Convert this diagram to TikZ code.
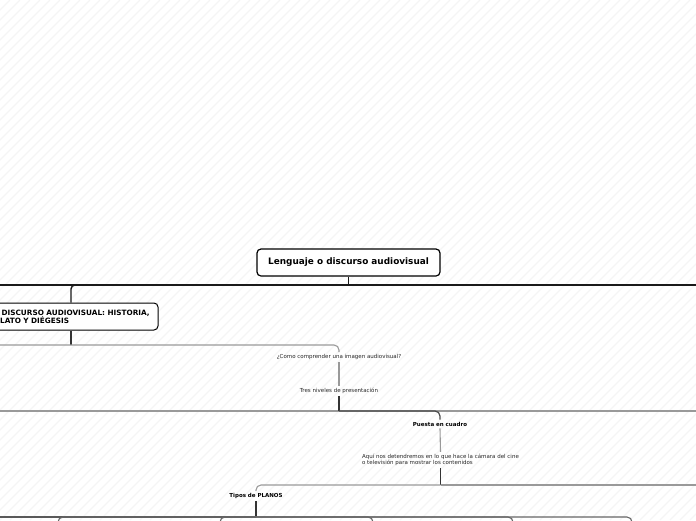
\documentclass[tikz,border=0pt]{standalone}
\usepackage{fontspec}
\setmainfont{DejaVu Sans}
\usetikzlibrary{positioning}

\tikzset{
  stripe/.style={black!4, line width=1.2pt},
  rootbox/.style={draw, line width=1.2pt, rounded corners=4pt, fill=white,
    font=\fontsize{8.9}{10}\selectfont\bfseries, minimum width=183pt, minimum height=27pt},
  topicbox/.style={draw, line width=1pt, rounded corners=4pt, fill=white, align=left,
    text width=163pt, inner xsep=5.5pt, minimum height=27pt,
    font=\fontsize{7.3}{8.2}\selectfont\bfseries},
  subtopic/.style={inner sep=2pt, font=\fontsize{5.5}{6}\selectfont\bfseries},
  note/.style={inner sep=2pt, text=black!85, font=\fontsize{5.5}{6.2}\selectfont},
  trunk/.style={line width=1.4pt, black!90},
  stub/.style={line width=1.2pt, black!80},
  branch/.style={line width=1.1pt, black!40}
}

\begin{document}
\begin{tikzpicture}[x=1pt,y=-1pt]
\useasboundingbox (0,0) rectangle (696,520);
\clip (0,0) rectangle (696,520);
% background
\foreach \k in {-520,-510,...,700} {
    \draw[stripe] (\k,520) -- ++(520,-520);
}

% topics
\node[rootbox] (root) at (348.5,262.5) {Lenguaje o discurso audiovisual};
\node[topicbox] (discurso) at (71,316.5) {EL DISCURSO AUDIOVISUAL: HISTORIA,\\RELATO Y DIÉGESIS};
\node[note] (comprender) at (339,357) {¿Como comprender una imagen audiovisual?};
\node[note] (niveles) at (339,391) {Tres niveles de presentación};
\node[subtopic] (puesta) at (440,424) {Puesta en cuadro};
\node[note, align=left] (aqui) at (440.5,460) {Aquí nos detendremos en lo que hace la cámara del cine\\o televisión para mostrar los contenidos};
\node[subtopic] (tipos) at (256,496) {Tipos de PLANOS};

% junction lines
\coordinate (lvlA) at (0,285);   \coordinate (lvlAr) at (696,285);
\coordinate (lvlB) at (0,345);
\coordinate (lvlC) at (0,411);   \coordinate (lvlCr) at (696,411);
\coordinate (lvlD) at (696,485);
\coordinate (lvlE) at (0,517);
\foreach \n/\x in {a/58, b/220, c/373, d/513, e/632} {
    \coordinate (plano\n) at (\x,540);
}

% root
\draw[trunk] (root.south) -- (root.south |- lvlA);
\draw[trunk] (lvlA) -- (lvlAr);
\draw[trunk, rounded corners=4pt] (root.south |- lvlA) -| (discurso.north);

% discurso
\draw[stub] (discurso.south) -- (discurso.south |- lvlB);
\draw[branch, rounded corners=5pt] (lvlB) -| (comprender.north);
\draw[branch] (comprender.south) -- (niveles.north);

% niveles
\draw[branch] (lvlC) -- (lvlCr);
\draw[stub] (niveles.south) -- (niveles.south |- lvlC);
\draw[stub, black!70, rounded corners=5pt] (niveles.south |- lvlC) -| (puesta.north);

% puesta
\draw[branch] (puesta.south) -- (aqui.north);
\draw[stub] (aqui.south) -- (aqui.south |- lvlD);
\draw[branch] (aqui.south |- lvlD) -- (lvlD);
\draw[branch, rounded corners=5pt] (aqui.south |- lvlD) -| (tipos.north);

% tipos
\draw[stub] (tipos.south) -- (tipos.south |- lvlE);
\draw[branch, black!65] (lvlE) -- (tipos.south |- lvlE);
\foreach \n in {a,b,c,d,e} {
    \draw[branch, black!60, rounded corners=5pt] (tipos.south |- lvlE) -| (plano\n);
}
\end{tikzpicture}
\end{document}
